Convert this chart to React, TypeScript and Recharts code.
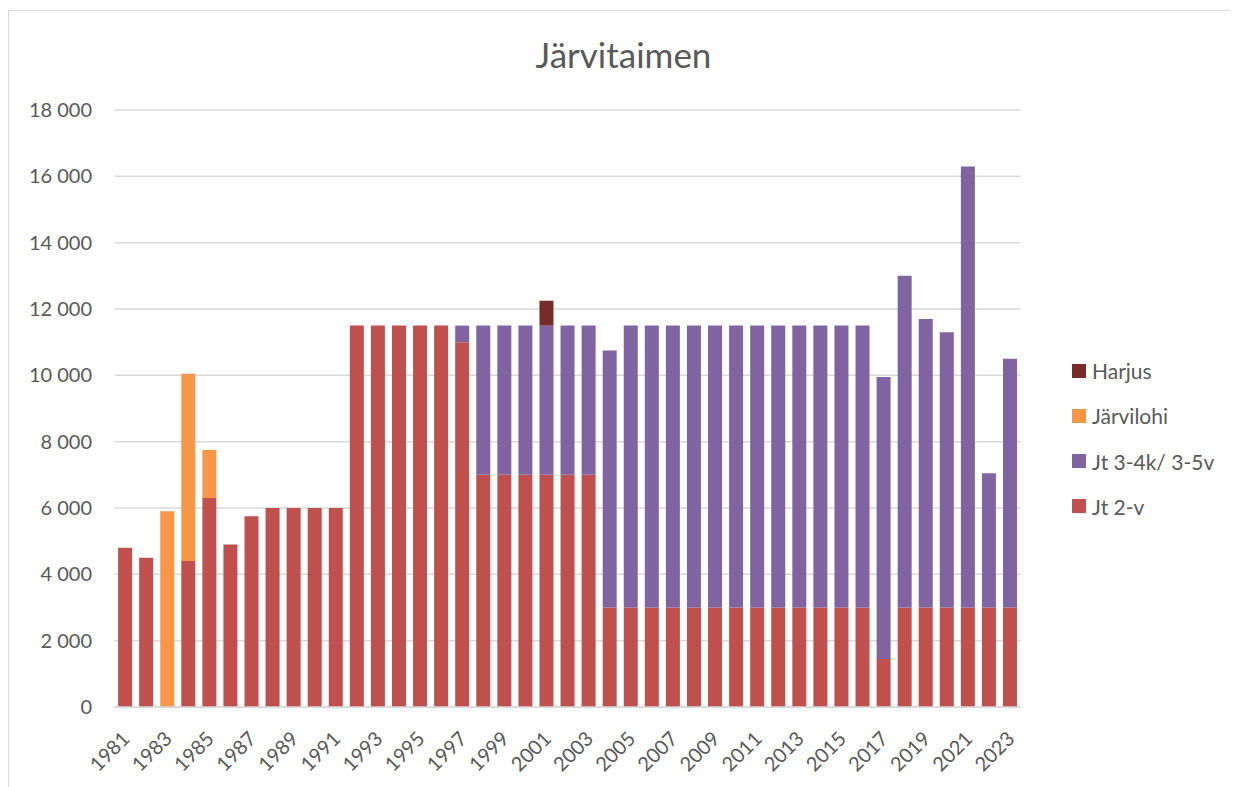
import { BarChart, Bar, XAxis, YAxis, CartesianGrid } from 'recharts';

const years = [
  '1981', '1982', '1983', '1984', '1985', '1986', '1987', '1988', '1989', '1990',
  '1991', '1992', '1993', '1994', '1995', '1996', '1997', '1998', '1999', '2000',
  '2001', '2002', '2003', '2004', '2005', '2006', '2007', '2008', '2009', '2010',
  '2011', '2012', '2013', '2014', '2015', '2016', '2017', '2018', '2019', '2020',
  '2021', '2022', '2023',
];

// Jt 2-v
const jt2v = [
  4800, 4500, 0, 4400, 6300, 4900, 5750, 6000, 6000, 6000,
  6000, 11500, 11500, 11500, 11500, 11500, 11000, 7000, 7000, 7000,
  7000, 7000, 7000, 3000, 3000, 3000, 3000, 3000, 3000, 3000,
  3000, 3000, 3000, 3000, 3000, 3000, 1450, 3000, 3000, 3000,
  3000, 3000, 3000,
];

// Jt 3-4k/ 3-5v
const jt34 = [
  0, 0, 0, 0, 0, 0, 0, 0, 0, 0,
  0, 0, 0, 0, 0, 0, 500, 4500, 4500, 4500,
  4500, 4500, 4500, 7750, 8500, 8500, 8500, 8500, 8500, 8500,
  8500, 8500, 8500, 8500, 8500, 8500, 8500, 10000, 8700, 8300,
  13300, 4050, 7500,
];

const jarvilohi = [
  0, 0, 5900, 5650, 1450, 0, 0, 0, 0, 0,
  0, 0, 0, 0, 0, 0, 0, 0, 0, 0,
  0, 0, 0, 0, 0, 0, 0, 0, 0, 0,
  0, 0, 0, 0, 0, 0, 0, 0, 0, 0,
  0, 0, 0,
];

const harjus = [
  0, 0, 0, 0, 0, 0, 0, 0, 0, 0,
  0, 0, 0, 0, 0, 0, 0, 0, 0, 0,
  750, 0, 0, 0, 0, 0, 0, 0, 0, 0,
  0, 0, 0, 0, 0, 0, 0, 0, 0, 0,
  0, 0, 0,
];

const yTicks = [0, 2000, 4000, 6000, 8000, 10000, 12000, 14000, 16000, 18000];

const series = [
  { key: 'jt2v', name: 'Jt 2-v', color: '#C0504D' },
  { key: 'jt34', name: 'Jt 3-4k/ 3-5v', color: '#8064A2' },
  { key: 'jarvilohi', name: 'Järvilohi', color: '#F79646' },
  { key: 'harjus', name: 'Harjus', color: '#772C2A' },
];

const data = years.map((year, i) => ({
  year,
  jt2v: jt2v[i],
  jt34: jt34[i],
  jarvilohi: jarvilohi[i],
  harjus: harjus[i],
}));

const fmt = (v: number) => v.toString().replace(/\B(?=(\d{3})+(?!\d))/g, ' ');

const textColor = '#595959';

function XTick(props: any) {
  const { x, y, payload } = props;
  const tx = x + 6;
  const ty = y + 33;
  return (
    <text
      x={tx}
      y={ty}
      transform={`rotate(-45, ${tx}, ${ty})`}
      textAnchor="end"
      fill={textColor}
      fontSize={20}
    >
      {payload.value}
    </text>
  );
}

export default function App() {
  return (
    <div
      style={{
        position: 'relative',
        marginTop: 2,
        width: 1230,
        height: 777,
        borderTop: '1px solid #d9d9d9',
        borderLeft: '1px solid #d9d9d9',
        boxSizing: 'border-box',
        fontFamily: 'Lato, sans-serif',
        background: '#fff',
      }}
    >
      <style>{'body{overflow:hidden}'}</style>
      <div
        style={{
          position: 'absolute',
          top: 26,
          left: 0,
          width: '100%',
          textAlign: 'center',
          fontSize: 35,
          lineHeight: '35px',
          color: textColor,
        }}
      >
        Järvitaimen
      </div>

      <BarChart
        width={1229}
        height={776}
        data={data}
        margin={{ top: 99, right: 217.5, bottom: 0, left: 0 }}
        barCategoryGap="17%"
      >
        <CartesianGrid vertical={false} stroke="#d9d9d9" strokeWidth={1.5} />
        <XAxis
          dataKey="year"
          interval={1}
          height={80}
          axisLine={{ stroke: '#d9d9d9', strokeWidth: 1.5 }}
          tickLine={false}
          tickSize={0}
          tickMargin={0}
          tick={<XTick />}
        />
        <YAxis
          width={105.5}
          domain={[0, 18000]}
          ticks={yTicks}
          tickFormatter={fmt}
          axisLine={false}
          tickLine={false}
          tickSize={0}
          tickMargin={22.5}
          tick={{ fill: textColor, fontSize: 20 }}
        />
        {series.map((s) => (
          <Bar
            key={s.key}
            dataKey={s.key}
            name={s.name}
            stackId="a"
            fill={s.color}
            isAnimationActive={false}
          />
        ))}
      </BarChart>

      <div style={{ position: 'absolute', left: 1063, top: 349 }}>
        {[...series].reverse().map((s) => (
          <div
            key={s.key}
            style={{
              display: 'flex',
              alignItems: 'center',
              height: 21,
              marginBottom: 24.3,
              fontSize: 21,
              lineHeight: '21px',
              color: textColor,
              whiteSpace: 'nowrap',
            }}
          >
            <span
              style={{
                display: 'inline-block',
                width: 14,
                height: 14,
                background: s.color,
                marginRight: 6,
              }}
            />
            {s.name}
          </div>
        ))}
      </div>
    </div>
  );
}
